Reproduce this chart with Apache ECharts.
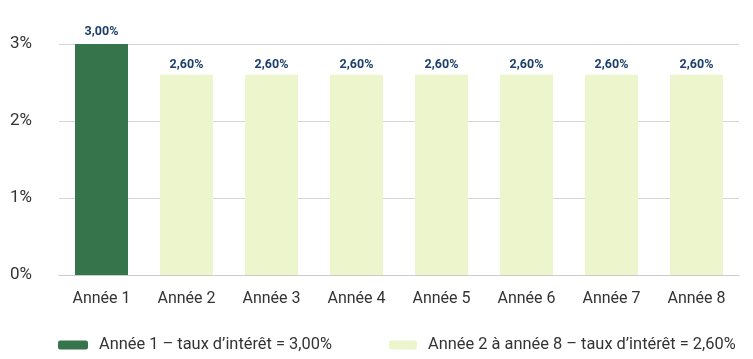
<!DOCTYPE html>
<html><head><meta charset="utf-8">
<script src="https://cdn.jsdelivr.net/npm/echarts@6/dist/echarts.min.js"></script>
<style>html,body{margin:0;padding:0;background:#fff}#c{width:753px;height:359px}</style>
</head><body><div id="c"></div>
<script>
const categories = ['Année 1','Année 2','Année 3','Année 4','Année 5','Année 6','Année 7','Année 8'];
const year1Values = [3.00, null, null, null, null, null, null, null];
const laterValues = [null, 2.60, 2.60, 2.60, 2.60, 2.60, 2.60, 2.60];
const seriesNames = ['Année 1 – taux d’intérêt = 3,00%', 'Année 2 à année 8 – taux d’intérêt = 2,60%'];
const yTicks = {min: 0, max: 3, interval: 1};

const FONT = 'Roboto, sans-serif';
const fmt = v => v.toFixed(2).replace('.', ',') + '%';
const chart = echarts.init(document.getElementById('c'));
const labelCfg = d => ({show: true, position: 'top', distance: d, color: '#1d3f6b', fontWeight: 'bold', fontSize: 12.5, fontFamily: FONT, formatter: p => fmt(p.value)});
const legendText = {fontSize: 16.4, color: '#333', fontFamily: FONT, padding: [0, 0, 0, 6]};
chart.setOption({
  animation: false,
  grid: {left: 59, right: 14, top: 44, bottom: 84},
  legend: [
    {data: [seriesNames[0]], left: 53, top: 332, itemWidth: 30, itemHeight: 9, textStyle: legendText, selectedMode: false},
    {data: [seriesNames[1]], left: 384, top: 332, itemWidth: 28, itemHeight: 9, textStyle: legendText, selectedMode: false}
  ],
  xAxis: {type: 'category', data: categories, axisTick: {show: false},
    axisLine: {lineStyle: {color: '#cccccc'}},
    axisLabel: {fontSize: 16, color: '#333', margin: 16, fontFamily: FONT}},
  yAxis: {type: 'value', min: yTicks.min, max: yTicks.max, interval: yTicks.interval,
    splitLine: {lineStyle: {color: '#d4d4d4'}},
    axisLabel: {fontSize: 17, color: '#333', margin: 27, fontFamily: FONT, formatter: v => v + '%'}},
  series: [
    {name: seriesNames[0], type: 'bar', data: year1Values, barWidth: 53, barGap: '-100%', itemStyle: {color: '#36744c'}, label: labelCfg(6)},
    {name: seriesNames[1], type: 'bar', data: laterValues, barWidth: 53, itemStyle: {color: '#ecf5cb'}, label: labelCfg(3)}
  ]
});
</script></body></html>
